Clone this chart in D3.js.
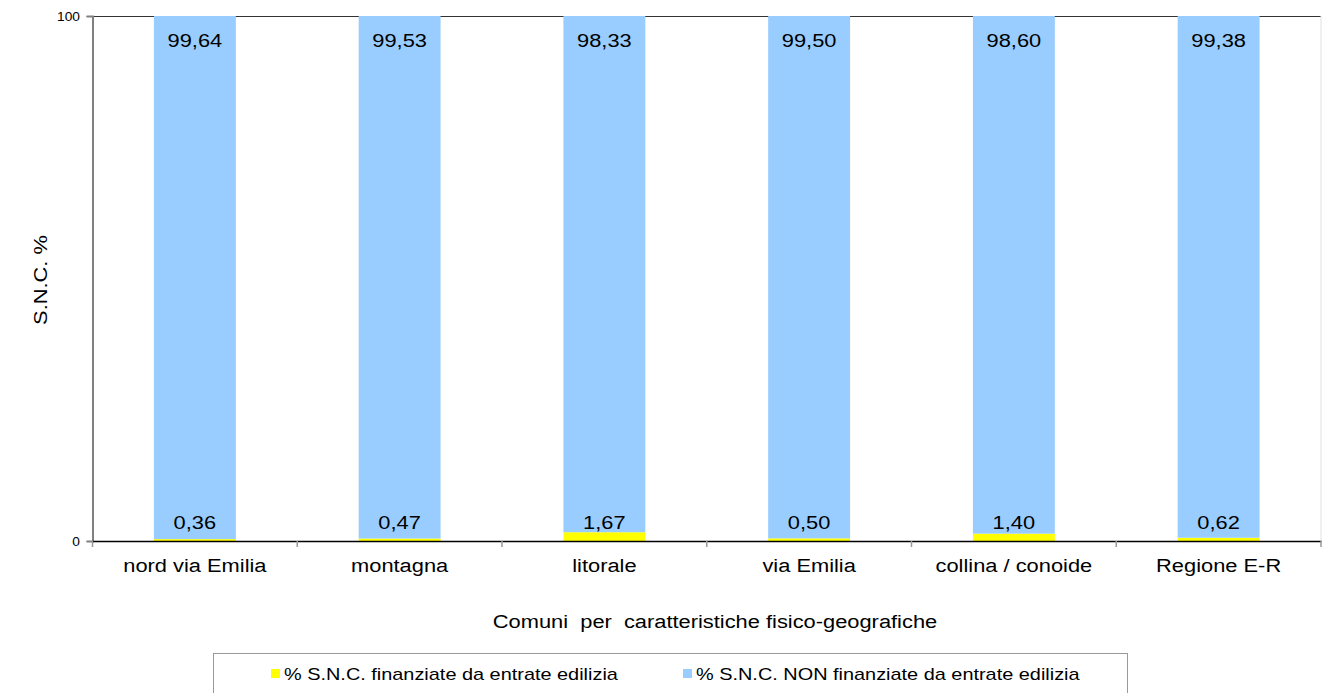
<!DOCTYPE html>
<html>
<head>
<meta charset="utf-8">
<script src="https://cdn.jsdelivr.net/npm/d3@7"></script>
<style>
  html, body { margin: 0; padding: 0; background: #fff; }
  svg { display: block; font-family: Arial, "Liberation Sans", sans-serif; }
</style>
</head>
<body>
<svg id="chart" width="1332" height="693"></svg>
<script>
// Comuni grouped by physical-geographic zone
const categories = ["nord via Emilia", "montagna", "litorale", "via Emilia", "collina / conoide", "Regione E-R"];
// Share of S.N.C. funded by building revenues (%)
const financed = [0.36, 0.47, 1.67, 0.50, 1.40, 0.62];
// Share of S.N.C. NOT funded by building revenues (%)
const notFinanced = [99.64, 99.53, 98.33, 99.50, 98.60, 99.38];
const yTicks = [0, 100];
const seriesNames = ["% S.N.C. finanziate da entrate edilizia", "% S.N.C. NON finanziate da entrate edilizia"];
const seriesColors = ["#ffff00", "#99ccff"];

const fmt = v => v.toFixed(2).replace(".", ",");
// the chart's lettering is set slightly wide
const WIDE = 1.15;

const svg = d3.select("#chart");
const plotLeft = 92.5, plotRight = 1321, plotTop = 16, plotBottom = 541;

const x = d3.scaleBand().domain(categories).range([plotLeft, plotRight]).paddingInner(0.6).paddingOuter(0.3);
const y = d3.scaleLinear().domain([0, 100]).range([plotBottom, plotTop]);
const step = x.step();

const rows = categories.map((c, i) => ({ c, a: financed[i], b: notFinanced[i] }));

// places a text at (px, py), widened horizontally
function place(sel, px, py, sx = WIDE, rot = 0) {
  sel.attr("x", 0).attr("y", 0)
    .attr("transform", (d, i) => {
      const tx = typeof px === "function" ? px(d, i) : px;
      const ty = typeof py === "function" ? py(d, i) : py;
      return `translate(${tx},${ty})` + (rot ? ` rotate(${rot})` : "") + ` scale(${sx},1)`;
    });
  return sel;
}

// plot frame: top border dark, right border light
svg.append("line").attr("x1", plotLeft).attr("x2", plotRight).attr("y1", plotTop + 0.5).attr("y2", plotTop + 0.5)
  .attr("stroke", "#333").attr("stroke-width", 1.2);
svg.append("line").attr("x1", plotRight).attr("x2", plotRight).attr("y1", plotTop).attr("y2", plotBottom)
  .attr("stroke", "#e0e0e0").attr("stroke-width", 1);

// stacked bars
const g = svg.append("g");
g.selectAll("rect.fin").data(rows).join("rect").attr("class", "fin")
  .attr("x", d => x(d.c)).attr("width", x.bandwidth())
  .attr("y", d => y(d.a)).attr("height", d => y(0) - y(d.a))
  .attr("fill", seriesColors[0]);
g.selectAll("rect.non").data(rows).join("rect").attr("class", "non")
  .attr("x", d => x(d.c)).attr("width", x.bandwidth())
  .attr("y", d => y(d.a + d.b)).attr("height", d => y(d.a) - y(d.a + d.b))
  .attr("fill", seriesColors[1]);

// value labels
place(g.selectAll("text.vb").data(rows).join("text").attr("class", "vb")
  .attr("text-anchor", "middle").attr("font-size", 19).attr("fill", "#000")
  .text(d => fmt(d.b)),
  d => x(d.c) + x.bandwidth() / 2, d => y(d.a + d.b) + 31);
place(g.selectAll("text.va").data(rows).join("text").attr("class", "va")
  .attr("text-anchor", "middle").attr("font-size", 19).attr("fill", "#000")
  .text(d => fmt(d.a)),
  d => x(d.c) + x.bandwidth() / 2, y(0) - 12);

// y axis
const yAxis = svg.append("g").attr("transform", `translate(${plotLeft},0)`)
  .call(d3.axisLeft(y).tickValues(yTicks).tickSize(6).tickPadding(6).tickFormat(d3.format("d")));
yAxis.select(".domain").attr("stroke", "#808080").attr("stroke-width", 2);
yAxis.selectAll(".tick line").attr("stroke", "#808080");
yAxis.selectAll(".tick text").attr("font-size", 12.5).attr("fill", "#000")
  .attr("font-family", "Arial, 'Liberation Sans', sans-serif")
  .attr("x", 0).attr("transform", "translate(-12.5,0) scale(1.1,1)");

// x axis
const xAxis = svg.append("g").attr("transform", `translate(0,${plotBottom})`)
  .call(d3.axisBottom(x).tickSize(0).tickPadding(18));
xAxis.select(".domain").attr("stroke", "#000").attr("stroke-width", 1.5);
xAxis.selectAll(".tick text").attr("font-size", 19).attr("fill", "#000")
  .attr("font-family", "Arial, 'Liberation Sans', sans-serif")
  .attr("transform", `scale(${WIDE},1)`);
// category separators
svg.append("g").selectAll("line").data(d3.range(categories.length + 1)).join("line")
  .attr("x1", i => plotLeft + i * step).attr("x2", i => plotLeft + i * step)
  .attr("y1", plotBottom).attr("y2", plotBottom + 6)
  .attr("stroke", "#999").attr("stroke-width", 1.5);

// axis titles
place(svg.append("text").attr("text-anchor", "middle")
  .attr("font-size", 19).attr("fill", "#000").attr("xml:space", "preserve")
  .text("Comuni  per  caratteristiche fisico-geografiche"), 715, 628);
place(svg.append("text").attr("text-anchor", "middle")
  .attr("font-size", 19).attr("fill", "#000").text("S.N.C. %"), 47, 280, WIDE, -90);

// legend
const lg = svg.append("g");
lg.append("rect").attr("x", 213.5).attr("y", 653.5).attr("width", 914).attr("height", 60)
  .attr("fill", "#fff").attr("stroke", "#999").attr("stroke-width", 1);
const legendX = [271, 683];
seriesNames.forEach((name, i) => {
  lg.append("rect").attr("x", legendX[i]).attr("y", 669).attr("width", 9).attr("height", 9)
    .attr("fill", seriesColors[i]);
  place(lg.append("text").attr("font-size", 17).attr("fill", "#000").text(name),
    legendX[i] + 13, 680, 1.17);
});
</script>
</body>
</html>
